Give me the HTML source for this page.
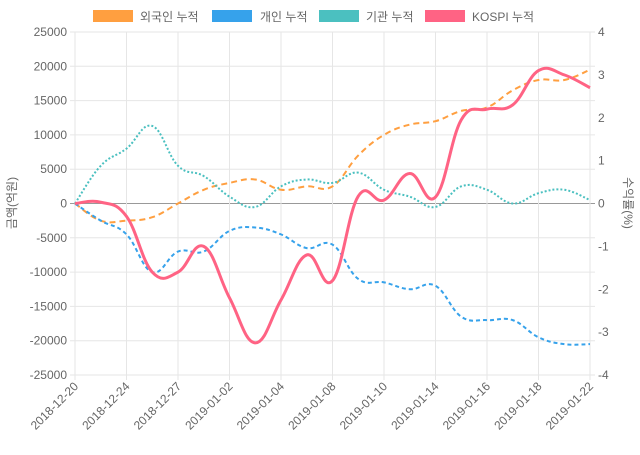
<!DOCTYPE html>
<html><head><meta charset="utf-8"><style>
body{margin:0;background:#fff;width:640px;height:450px;overflow:hidden}
text{font-family:"Liberation Sans","Noto Sans CJK KR",sans-serif;fill:#666;font-size:12px}
</style></head><body>
<svg id="s" width="640" height="450" xmlns="http://www.w3.org/2000/svg"></svg>
<script>
const s=document.getElementById('s');let h='';
const L=75,R=590,T=32,B=375;
const yl=v=>203.5-v/5000*34.3, yr=v=>203.5-v*42.875, xi=i=>L+i*25.75;
for(let k=-5;k<=5;k++){const y=yl(k*5000);h+=`<line x1="${L-5}" x2="${R+5}" y1="${y}" y2="${y}" stroke="${k==0?'#999':'#e6e6e6'}"/>`;
h+=`<text x="${L-8}" y="${y+4}" text-anchor="end">${k*5000}</text>`;}
for(let k=-4;k<=4;k++){h+=`<text x="${R+8}" y="${yr(k)+4}">${k}</text>`;}
const labs=['2018-12-20','2018-12-24','2018-12-27','2019-01-02','2019-01-04','2019-01-08','2019-01-10','2019-01-14','2019-01-16','2019-01-18','2019-01-22'];
labs.forEach((l,j)=>{const x=xi(j*2);h+=`<line x1="${x}" x2="${x}" y1="${T}" y2="${B+5}" stroke="#e6e6e6"/>`;
h+=`<text x="${x+4}" y="${B+12}" text-anchor="end" transform="rotate(-45 ${x+4} ${B+12})">${l}</text>`;});
function path(pts){let d=`M${pts[0][0]},${pts[0][1]}`;for(let i=0;i<pts.length-1;i++){const p0=pts[i-1]||pts[i],p1=pts[i],p2=pts[i+1],p3=pts[i+2]||p2;const t=0.2;
d+=` C${p1[0]+(p2[0]-p0[0])*t},${p1[1]+(p2[1]-p0[1])*t} ${p2[0]-(p3[0]-p1[0])*t},${p2[1]-(p3[1]-p1[1])*t} ${p2[0]},${p2[1]}`;}return d;}
const F=[0,-2500,-2500,-2000,0,2000,3000,3500,2000,2500,2500,7000,10000,11500,12000,13500,14000,16500,18000,18000,19500];
const P=[0,-2500,-4500,-10000,-7000,-7000,-4000,-3500,-4500,-6500,-6000,-11000,-11500,-12500,-12000,-16500,-17000,-17000,-19500,-20500,-20500];
const I=[0,5500,8000,11300,5500,4000,1000,-500,2500,3500,3000,4500,2000,1000,-500,2500,2000,0,1500,2000,500];
const K=[0,0.03,-0.3,-1.6,-1.6,-1.0,-2.2,-3.25,-2.25,-1.2,-1.8,0.17,0.08,0.7,0.15,1.95,2.2,2.3,3.1,3.0,2.7];
const mk=(a,f)=>a.map((v,i)=>[xi(i),f(v)]);
h+=`<path d="${path(mk(F,yl))}" fill="none" stroke="#ff9f40" stroke-width="2" stroke-dasharray="6,4"/>`;
h+=`<path d="${path(mk(P,yl))}" fill="none" stroke="#36a2eb" stroke-width="2" stroke-dasharray="4,3"/>`;
h+=`<path d="${path(mk(I,yl))}" fill="none" stroke="#4bc0c0" stroke-width="2" stroke-dasharray="2,2"/>`;
h+=`<path d="${path(mk(K,yr))}" fill="none" stroke="#ff6384" stroke-width="3"/>`;
h+=`<rect x="93" y="10" width="40" height="12" fill="#ff9f40"/><text x="140" y="21">외국인 누적</text>`;
h+=`<rect x="212" y="10" width="40" height="12" fill="#36a2eb"/><text x="260" y="21">개인 누적</text>`;
h+=`<rect x="319" y="10" width="40" height="12" fill="#4bc0c0"/><text x="366" y="21">기관 누적</text>`;
h+=`<rect x="425" y="10" width="40" height="12" fill="#ff6384"/><text x="472" y="21">KOSPI 누적</text>`;
h+=`<text x="16" y="203" text-anchor="middle" transform="rotate(-90 16 203)">금액(억원)</text>`;
h+=`<text x="624" y="203" text-anchor="middle" transform="rotate(90 624 203)">수익률(%)</text>`;
s.innerHTML=h;
</script>
</body></html>
